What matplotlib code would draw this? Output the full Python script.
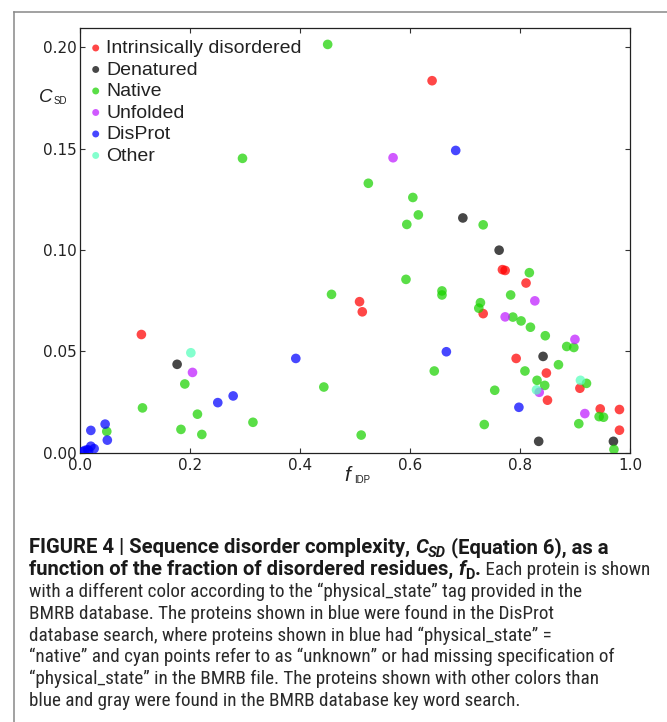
import matplotlib
matplotlib.use("Agg")
import matplotlib.pyplot as plt
from matplotlib import font_manager
from matplotlib.lines import Line2D

# ====================================
# Data
# ====================================
red_x = [0.640, 0.111, 0.508, 0.513, 0.768, 0.773, 0.811, 0.733, 0.793, 0.848,
         0.850, 0.909, 0.946, 0.981, 0.981]
red_y = [0.1835, 0.0583, 0.0745, 0.0695, 0.0903, 0.0899, 0.0837, 0.0686, 0.0465, 0.0393,
         0.0259, 0.0318, 0.0216, 0.0213, 0.0111]

black_x = [0.696, 0.762, 0.176, 0.842, 0.834, 0.970]
black_y = [0.1158, 0.0999, 0.0436, 0.0475, 0.0056, 0.0056]

green_x = [0.450, 0.295, 0.524, 0.605, 0.615, 0.594, 0.733, 0.457, 0.443, 0.113,
           0.190, 0.183, 0.213, 0.221, 0.314, 0.048, 0.5925, 0.658, 0.658, 0.728,
           0.725, 0.817, 0.783, 0.787, 0.802, 0.819, 0.846, 0.885, 0.898, 0.644,
           0.870, 0.809, 0.831, 0.845, 0.754, 0.921, 0.511, 0.735, 0.907, 0.944,
           0.952, 0.971]
green_y = [0.2014, 0.1452, 0.1329, 0.1259, 0.1173, 0.1126, 0.1124, 0.0781, 0.0324, 0.0221,
           0.0339, 0.0115, 0.0190, 0.0090, 0.0150, 0.0105, 0.0855, 0.0798, 0.0778, 0.0740,
           0.0713, 0.0888, 0.0778, 0.0669, 0.0650, 0.0619, 0.0577, 0.0524, 0.0519, 0.0403,
           0.0434, 0.0403, 0.0357, 0.0332, 0.0308, 0.0342, 0.0087, 0.0139, 0.0143, 0.0178,
           0.0175, 0.0016]

purple_x = [0.569, 0.204, 0.827, 0.773, 0.900, 0.835, 0.918]
purple_y = [0.1455, 0.0396, 0.0749, 0.0670, 0.0559, 0.0298, 0.0193]

blue_x = [0.683, 0.392, 0.250, 0.278, 0.045, 0.049, 0.019, 0.019, 0.025, 0.013,
          0.008, 0.015, 0.004, 0.666, 0.798]
blue_y = [0.1491, 0.0465, 0.0247, 0.0280, 0.0141, 0.0062, 0.0110, 0.0032, 0.0020, 0.0015,
          0.0011, 0.0010, 0.0005, 0.0498, 0.0224]

cyan_x = [0.201, 0.910, 0.830]
cyan_y = [0.0493, 0.0357, 0.0310]

labels = ["Intrinsically disordered", "Denatured", "Native", "Unfolded", "DisProt", "Other"]
colors = ["#ff0000", "#000000", "#1ad200", "#bf1aff", "#0000ff", "#55ffbb"]

x_ticks = [0.0, 0.2, 0.4, 0.6, 0.8, 1.0]
y_ticks = [0.00, 0.05, 0.10, 0.15, 0.20]

caption_lines = [
    [("FIGURE 4 | Sequence disorder complexity, ", "bold", "normal", 1.0, 0),
     ("C", "bold", "italic", 1.0, 0),
     ("SD", "bold", "italic", 0.72, -4),
     (" (Equation 6), as a", "bold", "normal", 1.0, 0)],
    [("function of the fraction of disordered residues, ", "bold", "normal", 1.0, 0),
     ("f", "bold", "italic", 1.0, 0),
     ("D", "bold", "normal", 0.72, -4),
     (".", "bold", "normal", 1.0, 0),
     (" Each protein is shown", "normal", "normal", 1.0, 0)],
    [("with a different color according to the \u201cphysical_state\u201d tag provided in the",
      "normal", "normal", 1.0, 0)],
    [("BMRB database. The proteins shown in blue were found in the DisProt",
      "normal", "normal", 1.0, 0)],
    [("database search, where proteins shown in blue had \u201cphysical_state\u201d =",
      "normal", "normal", 1.0, 0)],
    [("\u201cnative\u201d and cyan points refer to as \u201cunknown\u201d or had missing specification of",
      "normal", "normal", 1.0, 0)],
    [("\u201cphysical_state\u201d in the BMRB file. The proteins shown with other colors than",
      "normal", "normal", 1.0, 0)],
    [("blue and gray were found in the BMRB database key word search.",
      "normal", "normal", 1.0, 0)],
]

# ====================================
# Figure
# ====================================
W, H = 667, 722
fig = plt.figure(figsize=(W / 100, H / 100), dpi=100)


def fx(px):
    return px / W


def fy(py):
    return 1 - py / H


ax = fig.add_axes([fx(80.4), fy(452.7), fx(629.9) - fx(80.4), fy(28) - fy(452.7)])

series = [(red_x, red_y), (black_x, black_y), (green_x, green_y),
          (purple_x, purple_y), (blue_x, blue_y), (cyan_x, cyan_y)]

for (xs, ys), lab, col in zip(series, labels, colors):
    ax.scatter(xs, ys, s=48, c=col, alpha=0.72, edgecolors="none", label=lab, zorder=3)

ax.set_xlim(0, 1.0)
ax.set_ylim(0, 0.2095)
ax.set_xticks(x_ticks)
ax.set_yticks(y_ticks)
ax.set_xticklabels([f"{v:.1f}" for v in x_ticks])
ax.set_yticklabels([f"{v:.2f}" for v in y_ticks])
ax.tick_params(direction="in", length=3.5, width=0.8, top=True, right=True,
               labelsize=11, labelcolor="#222222", color="#333333")
ax.tick_params(axis="x", pad=4)
ax.tick_params(axis="y", pad=2.5)
for sp in ax.spines.values():
    sp.set_color("#222222")
    sp.set_linewidth(0.9)

leg = ax.legend(loc="upper left", bbox_to_anchor=(0.019, 0.973), frameon=False,
                prop={"family": "Liberation Sans", "size": 14},
                scatterpoints=1, markerscale=0.72, handlelength=0.5,
                handletextpad=0.3, labelspacing=0.2, borderpad=0, borderaxespad=0)
for t in leg.get_texts():
    t.set_color("#222222")

# axis labels drawn as separate pieces
fig.text(fx(39), fy(102), "C", fontsize=13.5, style="italic", family="Liberation Sans",
         color="#222222", va="baseline")
fig.text(fx(54), fy(104), "SD", fontsize=7, family="Liberation Sans",
         color="#222222", va="baseline")
fig.text(fx(344), fy(481), "f", fontsize=15, style="italic", family="Liberation Sans",
         color="#222222", va="baseline")
fig.text(fx(354), fy(483), "IDP", fontsize=7, family="Liberation Sans",
         color="#222222", va="baseline")

# outer frame (left and top only)
fig.add_artist(Line2D([fx(14), fx(14)], [fy(12), 0], transform=fig.transFigure,
                      color="#888888", lw=1.1))
fig.add_artist(Line2D([fx(14), 1], [fy(12), fy(12)], transform=fig.transFigure,
                      color="#888888", lw=1.1))

# ====================================
# Caption
# ====================================
names = {f.name for f in font_manager.fontManager.ttflist}
plain_family = "Liberation Sans"
for cand in ["Liberation Sans Narrow", "Roboto Condensed", "Roboto"]:
    if cand in names:
        plain_family = cand
        break
bold_family = "Roboto" if "Roboto" in names else "Liberation Sans"

renderer = fig.canvas.get_renderer()


def fam(weight):
    return bold_family if weight == "bold" else plain_family


def seg_width(text, size, weight, style):
    t = fig.text(0, 0, "|" + text + "|", fontsize=size, weight=weight, style=style,
                 family=fam(weight))
    t2 = fig.text(0, 0, "||", fontsize=size, weight=weight, style=style, family=fam(weight))
    w = t.get_window_extent(renderer).width - t2.get_window_extent(renderer).width
    t.remove()
    t2.remove()
    return w


def line_width(segs, size):
    return sum(seg_width(s[0], size * s[3], s[1], s[2]) for s in segs)


# fit sizes to widths measured on the figure (bold first line, plain lines 4 and 8)
plain_size = 10 * 0.5 * (527 / line_width(caption_lines[3], 10)
                         + 487 / line_width(caption_lines[7], 10))
bold_size = min(10 * 581 / line_width(caption_lines[0], 10), plain_size * 1.08)

baseline0 = 553
line_gap = 21.9
for i, segs in enumerate(caption_lines):
    x = 29
    y = baseline0 + i * line_gap
    for text, weight, style, scale, dy in segs:
        base = bold_size if weight == "bold" else plain_size
        size = base * scale
        fig.text(fx(x), fy(y - dy), text, fontsize=size, weight=weight, style=style,
                 family=fam(weight), color="#1a1a1a" if weight == "bold" else "#2a2a2a",
                 va="baseline", ha="left")
        x += seg_width(text, size, weight, style)

fig.savefig("out.png", dpi=100)
